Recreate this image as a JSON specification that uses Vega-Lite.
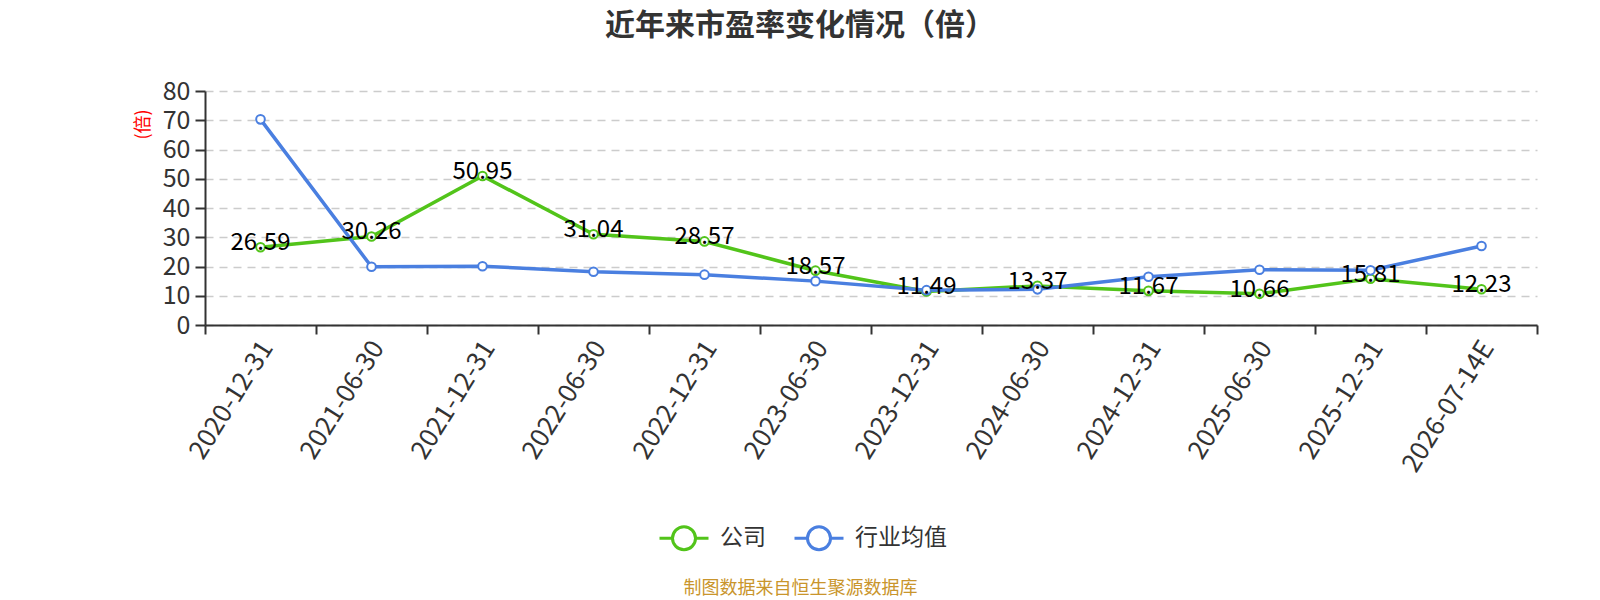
{
  "$schema": "https://vega.github.io/schema/vega-lite/v6.json",
  "autosize": "none",
  "width": 1332,
  "height": 234,
  "padding": {"left": 205, "top": 91, "right": 63, "bottom": 275},
  "background": "white",
  "title": {
    "text": "近年来市盈率变化情况（倍）",
    "fontSize": 30,
    "fontWeight": "bold",
    "color": "#333333",
    "font": "Noto Sans CJK SC",
    "anchor": "middle",
    "dx": -71,
    "offset": 38
  },
  "data": {
    "values": [
      {"date": "2020-12-31", "series": "公司", "value": 26.59},
      {"date": "2021-06-30", "series": "公司", "value": 30.26},
      {"date": "2021-12-31", "series": "公司", "value": 50.95},
      {"date": "2022-06-30", "series": "公司", "value": 31.04},
      {"date": "2022-12-31", "series": "公司", "value": 28.57},
      {"date": "2023-06-30", "series": "公司", "value": 18.57},
      {"date": "2023-12-31", "series": "公司", "value": 11.49},
      {"date": "2024-06-30", "series": "公司", "value": 13.37},
      {"date": "2024-12-31", "series": "公司", "value": 11.67},
      {"date": "2025-06-30", "series": "公司", "value": 10.66},
      {"date": "2025-12-31", "series": "公司", "value": 15.81},
      {"date": "2026-07-14E", "series": "公司", "value": 12.23},
      {"date": "2020-12-31", "series": "行业均值", "value": 70.3},
      {"date": "2021-06-30", "series": "行业均值", "value": 19.9},
      {"date": "2021-12-31", "series": "行业均值", "value": 20.1},
      {"date": "2022-06-30", "series": "行业均值", "value": 18.2},
      {"date": "2022-12-31", "series": "行业均值", "value": 17.2},
      {"date": "2023-06-30", "series": "行业均值", "value": 15.0},
      {"date": "2023-12-31", "series": "行业均值", "value": 11.9},
      {"date": "2024-06-30", "series": "行业均值", "value": 12.2},
      {"date": "2024-12-31", "series": "行业均值", "value": 16.5},
      {"date": "2025-06-30", "series": "行业均值", "value": 18.9},
      {"date": "2025-12-31", "series": "行业均值", "value": 18.7},
      {"date": "2026-07-14E", "series": "行业均值", "value": 27.0}
    ]
  },
  "encoding": {
    "x": {
      "field": "date",
      "type": "ordinal",
      "sort": null,
      "scale": {"type": "band", "paddingInner": 0, "paddingOuter": 0},
      "axis": {
        "title": "制图数据来自恒生聚源数据库",
        "titleColor": "#c9952c",
        "titleFontSize": 18,
        "titleFontWeight": "normal",
        "titleFont": "Noto Sans CJK SC",
        "titleX": 595,
        "titleY": 263,
        "titleAlign": "center",
        "titleBaseline": "middle",
        "labelAngle": -58,
        "labelAlign": "right",
        "labelBaseline": "middle",
        "labelFontSize": 26,
        "labelColor": "#333333",
        "labelFont": "Noto Sans CJK SC",
        "labelPadding": 9,
        "labelOffset": 6,
        "tickBand": "extent",
        "tickSize": 9,
        "tickWidth": 2,
        "tickColor": "#333333",
        "domainColor": "#333333",
        "domainWidth": 2,
        "grid": false
      }
    },
    "y": {
      "field": "value",
      "type": "quantitative",
      "scale": {"domain": [0, 80], "nice": false},
      "axis": {
        "values": [0, 10, 20, 30, 40, 50, 60, 70, 80],
        "title": "(倍)",
        "titleColor": "#ff0000",
        "titleFontSize": 18,
        "titleFontWeight": "normal",
        "titleFont": "Noto Sans CJK SC",
        "titleAngle": -90,
        "titleX": -62,
        "titleY": 33,
        "titleAlign": "center",
        "titleBaseline": "middle",
        "labelFontSize": 25,
        "labelColor": "#333333",
        "labelFont": "Noto Sans CJK SC",
        "labelPadding": 5,
        "tickSize": 10,
        "tickWidth": 2,
        "tickColor": "#333333",
        "domainColor": "#333333",
        "domainWidth": 2,
        "grid": true,
        "gridColor": "#cccccc",
        "gridDash": [8, 6],
        "gridWidth": 1.5
      }
    }
  },
  "layer": [
    {
      "mark": {"type": "line", "strokeWidth": 3.5},
      "encoding": {
        "color": {
          "field": "series",
          "type": "nominal",
          "scale": {"domain": ["公司", "行业均值"], "range": ["#52c41a", "#4a7fe0"]},
          "legend": {
            "title": null,
            "orient": "none",
            "direction": "horizontal",
            "legendX": 453,
            "legendY": 421,
            "symbolType": "M-1,0L-0.47,0M0.47,0L1,0M-0.47,0A0.47,0.47,0,1,1,0.47,0A0.47,0.47,0,1,1,-0.47,0",
            "symbolSize": 2401,
            "symbolStrokeWidth": 3,
            "labelFontSize": 23,
            "labelColor": "#333333",
            "labelFont": "Noto Sans CJK SC",
            "labelOffset": 10,
            "columnPadding": 22,
            "encode": {"symbols": {"update": {"fill": {"value": "white"}}}}
          }
        }
      }
    },
    {
      "mark": {"type": "point", "filled": true, "fill": "white", "size": 75, "strokeWidth": 2, "opacity": 1},
      "encoding": {
        "stroke": {"field": "series", "type": "nominal", "scale": {"domain": ["公司", "行业均值"], "range": ["#52c41a", "#4a7fe0"]}, "legend": null}
      }
    },
    {
      "transform": [{"filter": "datum.series === '公司'"}],
      "mark": {"type": "text", "fontSize": 24, "color": "#000000", "font": "Noto Sans CJK SC", "baseline": "middle", "align": "center", "dy": -4},
      "encoding": {
        "text": {"field": "value", "type": "quantitative", "format": ".2f"}
      }
    }
  ],
  "config": {
    "view": {"stroke": null}
  }
}
